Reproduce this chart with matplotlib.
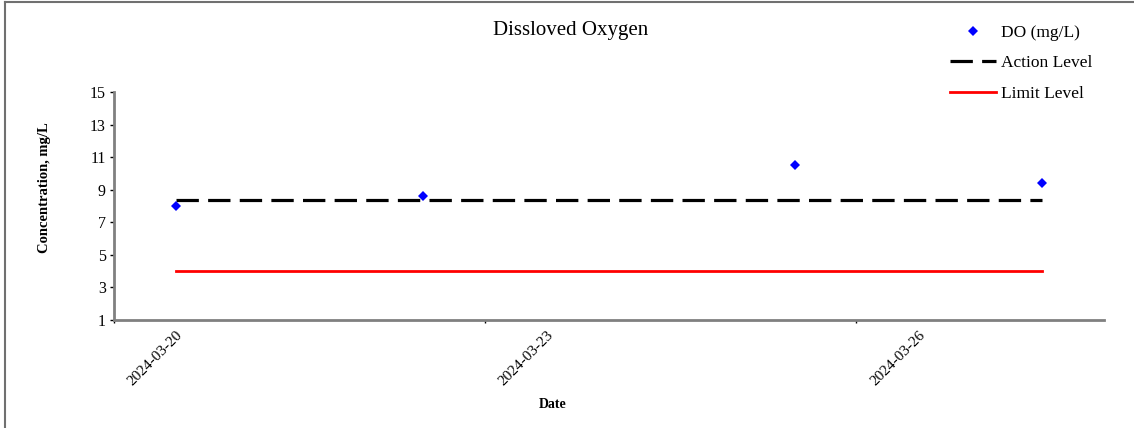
import matplotlib.pyplot as plt
from matplotlib.lines import Line2D
import pandas as pd

# Data
dates = pd.to_datetime(['2024-03-20', '2024-03-22', '2024-03-25', '2024-03-27'])
do_values = [8.0, 8.6, 10.5, 9.4]
action_level = [8.4, 8.4, 8.4, 8.4]
limit_level = [4.0, 4.0, 4.0, 4.0]
label_dates = pd.to_datetime(['2024-03-20', '2024-03-23', '2024-03-26'])
yticks = [1, 3, 5, 7, 9, 11, 13, 15]

plt.rcParams['font.family'] = ['Liberation Serif', 'DejaVu Serif']

fig = plt.figure(figsize=(11.34, 4.28), dpi=100)
ax = fig.add_axes([0.1005, 0.2523, 0.873, 0.5327])

ax.plot(dates, action_level, color='black', lw=2.3, dashes=(7, 2.9),
        solid_capstyle='butt', dash_capstyle='butt', label='Action Level')
ax.plot(dates, limit_level, color='red', lw=2.0, label='Limit Level')
ax.plot(dates, do_values, 'D', color='blue', ms=5.2, mew=0, ls='none',
        label='DO (mg/L)', zorder=5)

# axis limits: half a day either side of the date range
half = pd.Timedelta(hours=12)
ax.set_xlim(pd.Timestamp('2024-03-20') - half, pd.Timestamp('2024-03-27') + half)
ax.set_ylim(1, 15)
ax.set_yticks(yticks)

# ticks at day boundaries, labels at day centres
ax.set_xticks([d - half for d in label_dates])
ax.set_xticklabels([])
ax.set_xticks(label_dates, minor=True)
ax.set_xticklabels([d.strftime('%Y-%m-%d') for d in label_dates], minor=True,
                   rotation=45, ha='right', va='top', rotation_mode='anchor',
                   fontsize=11)
ax.tick_params(axis='x', which='minor', length=0, pad=6)
ax.tick_params(axis='x', which='major', length=2.5, width=1, color='black', direction='out')
ax.tick_params(axis='y', length=3, width=1, color='black', labelsize=11.5, pad=2.8)

for side in ['top', 'right']:
    ax.spines[side].set_visible(False)
for side in ['left', 'bottom']:
    ax.spines[side].set_color('#808080')
    ax.spines[side].set_linewidth(2)

ax.set_ylabel('Concentration, mg/L', fontsize=10.5, fontweight='bold', labelpad=0)
ax.yaxis.set_label_coords(-0.064, 0.58)
ax.set_xlabel('Date', fontsize=10, fontweight='bold')
ax.xaxis.set_label_coords(0.4434, -0.343)

fig.text(0.503, 0.928, 'Dissloved Oxygen', ha='center', va='center', fontsize=15)

handles, labels = ax.get_legend_handles_labels()
order = [2, 0, 1]
fig.legend([handles[i] for i in order], [labels[i] for i in order],
           loc='upper left', bbox_to_anchor=(0.832, 0.958), frameon=False,
           fontsize=12.5, handlelength=2.6, handletextpad=0.3, labelspacing=0.82,
           borderaxespad=0)

# frame edges of the chart area (left and top only visible)
fig.add_artist(Line2D([0.0045, 0.0045], [0, 0.995], transform=fig.transFigure,
                      color='#707070', lw=1.5))
fig.add_artist(Line2D([0.0045, 1], [0.995, 0.995], transform=fig.transFigure,
                      color='#707070', lw=1.5))

fig.savefig('out.png', dpi=100)
plt.close(fig)
